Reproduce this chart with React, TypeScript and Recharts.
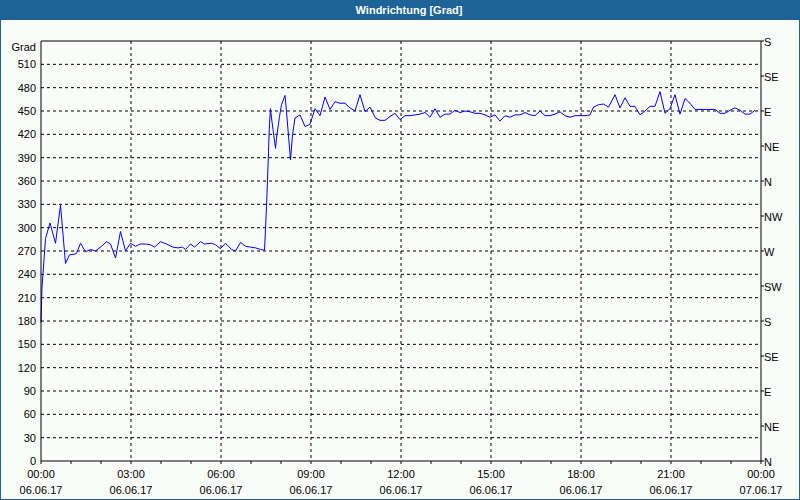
import { CartesianGrid, Line, LineChart, ReferenceLine, XAxis, YAxis } from "recharts";

// minutes since 06.06.17 00:00
const minutes = [
    0, 2, 4, 9, 18, 29, 39, 49, 57, 67, 71, 79, 89, 99, 109, 121, 131, 139, 149, 159,
    169, 179, 189, 199, 209, 219, 227, 239, 251, 264, 274, 283, 289, 299, 307, 319, 327, 341, 349, 359,
    369, 381, 389, 399, 409, 419, 429, 439, 447, 451, 453, 455, 457, 459, 461, 469, 471, 477, 481, 488,
    491, 499, 503, 508, 518, 528, 538, 548, 558, 568, 578, 588, 598, 608, 618, 628, 638, 648, 658, 669,
    678, 688, 698, 708, 718, 728, 738, 748, 758, 768, 778, 788, 798, 808, 818, 828, 838, 848, 858, 868,
    878, 888, 898, 908, 918, 928, 938, 948, 958, 968, 978, 988, 998, 1008, 1018, 1028, 1038, 1048, 1058, 1068,
    1078, 1088, 1098, 1105, 1115, 1125, 1135, 1148, 1158, 1168, 1178, 1188, 1198, 1208, 1218, 1228, 1238, 1248, 1258, 1268,
    1278, 1288, 1298, 1308, 1318, 1328, 1338, 1348, 1358, 1368, 1378, 1388, 1398, 1408, 1418, 1428,
];

const windDirection = [
    178, 224, 241, 286, 306, 280, 329, 254, 265, 266, 267, 280, 269, 272, 270, 276, 282, 279, 261, 295,
    270, 280, 276, 279, 279, 278, 275, 282, 279, 275, 274, 275, 272, 279, 275, 282, 279, 280, 278, 273,
    280, 272, 270, 281, 276, 275, 274, 272, 271, 327, 361, 398, 434, 453, 441, 402, 415, 443, 458, 470,
    449, 387, 419, 441, 445, 430, 433, 453, 444, 468, 452, 462, 460, 460, 454, 450, 471, 449, 455, 441,
    438, 438, 443, 447, 439, 444, 444, 445, 446, 448, 442, 453, 442, 446, 446, 451, 448, 450, 449, 447,
    447, 445, 442, 445, 437, 444, 442, 445, 445, 448, 445, 444, 450, 444, 444, 446, 449, 444, 442, 444,
    444, 444, 445, 455, 458, 459, 455, 471, 454, 467, 456, 456, 445, 450, 456, 456, 475, 447, 453, 471,
    446, 466, 460, 452, 452, 452, 452, 452, 447, 447, 451, 454, 451, 446, 446, 451,
];

const hourTicks = [0, 60, 120, 180, 240, 300, 360, 420, 480, 540, 600, 660, 720, 780, 840, 900, 960, 1020, 1080, 1140, 1200, 1260, 1320, 1380, 1440];
const labelTicks = [0, 180, 360, 540, 720, 900, 1080, 1260, 1440];
const timeLabels = ["00:00", "03:00", "06:00", "09:00", "12:00", "15:00", "18:00", "21:00", "00:00"];
const dateLabels = ["06.06.17", "06.06.17", "06.06.17", "06.06.17", "06.06.17", "06.06.17", "06.06.17", "06.06.17", "07.06.17"];
const gridTimes = [180, 360, 540, 720, 900, 1080, 1260];

const gradTicks = [0, 30, 60, 90, 120, 150, 180, 210, 240, 270, 300, 330, 360, 390, 420, 450, 480, 510, 540];
const gridGrad = [30, 60, 90, 120, 150, 180, 210, 240, 270, 300, 330, 360, 390, 420, 450, 480, 510];
const compassTicks = [0, 45, 90, 135, 180, 225, 270, 315, 360, 405, 450, 495, 540];
const compassLabels = ["N", "NE", "E", "SE", "S", "SW", "W", "NW", "N", "NE", "E", "SE", "S"];

const data = minutes.map((m, i) => ({ min: m, dir: windDirection[i] }));

const font = "'Liberation Sans', Arial, sans-serif";

const TimeTick = ({ x, y, payload }: any) => {
    const i = labelTicks.indexOf(payload.value);
    if (i < 0) return <g />;
    return (
        <g>
            <text x={x} y={y + 14} textAnchor="middle" fontSize={11} fontFamily={font} fill="#000">{timeLabels[i]}</text>
            <text x={x} y={y + 30} textAnchor="middle" fontSize={11} fontFamily={font} fill="#000">{dateLabels[i]}</text>
        </g>
    );
};

const GradTick = ({ x, y, payload }: any) => (
    <text x={x} y={payload.value === 540 ? y + 10 : y + 4} textAnchor="end" fontSize={11} fontFamily={font} fill="#000">
        {payload.value === 540 ? "Grad" : payload.value}
    </text>
);

const CompassTick = ({ x, y, payload }: any) => (
    <text x={x} y={y + 5} textAnchor="start" fontSize={11} fontFamily={font} fill="#000">
        {compassLabels[compassTicks.indexOf(payload.value)]}
    </text>
);

const App = () => {
    return (
        <div style={{ position: "absolute", left: 0, top: 0, width: 800, height: 500, background: "#1d6396" }}>
            <div style={{ position: "absolute", left: 1, top: 20, width: 798, height: 479, background: "#fafcfa" }} />
            <div style={{ position: "absolute", left: 309, top: 0, width: 200, height: 20, lineHeight: "20px", textAlign: "center", color: "#fff", fontWeight: "bold", fontSize: 11, fontFamily: font }}>
                Windrichtung [Grad]
            </div>
            <div style={{ position: "absolute", left: 0, top: 20 }}>
                <LineChart width={800} height={480} data={data} margin={{ top: 21, right: 0, bottom: 0, left: 0 }}>
                    <CartesianGrid stroke="#000" strokeDasharray="3 3" horizontalValues={gridGrad} verticalValues={gridTimes} />
                    <XAxis dataKey="min" type="number" domain={[0, 1440]} ticks={hourTicks} interval={0} height={39}
                        stroke="#000" tickSize={3} tickMargin={0} tick={<TimeTick />} />
                    <YAxis yAxisId={0} type="number" domain={[0, 540]} ticks={gradTicks} interval={0} width={41}
                        stroke="#000" tickLine={false} tickSize={0} tickMargin={5} tick={<GradTick />} />
                    <YAxis yAxisId="right" orientation="right" type="number" domain={[0, 540]} ticks={compassTicks} interval={0} width={39}
                        stroke="#000" tickSize={3} tickMargin={0} tick={<CompassTick />} />
                    <ReferenceLine y={540} stroke="#000" />
                    {/* invisible copy so the compass axis gets drawn */}
                    <Line yAxisId="right" type="linear" dataKey="dir" stroke="none" dot={false} activeDot={false} isAnimationActive={false} />
                    <Line type="linear" dataKey="dir" stroke="#0000ff" strokeWidth={1} dot={false} isAnimationActive={false} />
                </LineChart>
            </div>
        </div>
    );
};

export default App;
